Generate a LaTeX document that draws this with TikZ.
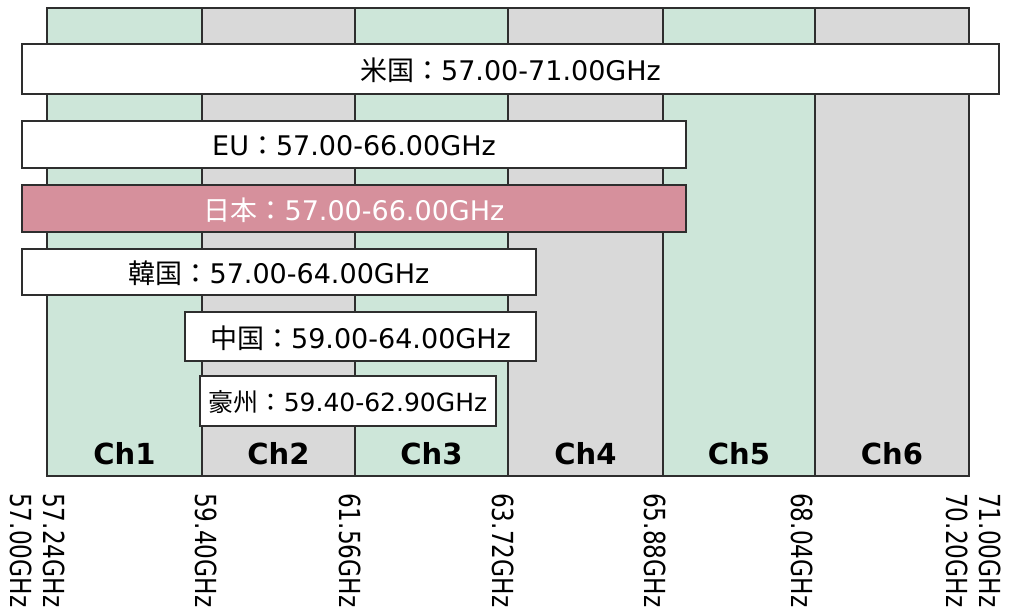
\documentclass[tikz,border=0pt]{standalone}
\usepackage{fontspec}
\setmainfont{DejaVu Sans}
\newfontfamily\jpfont{Noto Sans CJK JP}
\newfontfamily\tickfont[FakeStretch=0.8]{DejaVu Sans}
\definecolor{chgreen}{HTML}{CDE6D9}
\definecolor{chgray}{HTML}{D9D9D9}
\definecolor{jppink}{HTML}{D6909C}
\definecolor{edge}{HTML}{2E2E2E}
\tikzset{
  chan/.style={draw=edge,line width=1.3pt},
  band/.style={draw=edge,line width=1.3pt,fill=white},
  bandtext/.style={font=\fontsize{27}{32}\selectfont,inner sep=0pt},
  chtext/.style={font=\fontsize{29}{34}\selectfont\bfseries,inner sep=0pt},
  freq/.style={font=\tickfont\fontsize{29}{34}\selectfont,rotate=-90,anchor=west,inner sep=0pt}
}
\begin{document}
\begin{tikzpicture}[x=1pt,y=-1pt]
  \useasboundingbox (0,0) rectangle (1021,612);
  % channels
  \foreach \n/\xa/\xb/\col in {1/47/202/chgreen,2/202/355/chgray,3/355/508/chgreen,
                               4/508/663/chgray,5/663/815/chgreen,6/815/969/chgray} {
    \filldraw[chan,fill=\col] (\xa,8) rectangle (\xb,476);
    \node[chtext] (ch\n) at ({(\xa+\xb)/2},454) {Ch\n};
  }
  % bands
  \filldraw[band] (22,44) rectangle (999,94);
  \node[bandtext] (us) at (510.5,70) {{\jpfont 米国：}57.00-71.00GHz};
  \filldraw[band] (22,121) rectangle (686,168);
  \node[bandtext] (eu) at (354,146) {EU{\jpfont ：}57.00-66.00GHz};
  \filldraw[band,fill=jppink] (22,185) rectangle (686,232);
  \node[bandtext,text=white] (jp) at (354,210) {{\jpfont 日本：}57.00-66.00GHz};
  \filldraw[band] (22,249) rectangle (536,295);
  \node[bandtext] (kr) at (279,273) {{\jpfont 韓国：}57.00-64.00GHz};
  \filldraw[band] (185,312) rectangle (536,361);
  \node[bandtext] (cn) at (360.5,338) {{\jpfont 中国：}59.00-64.00GHz};
  \filldraw[band] (200,376) rectangle (496,426);
  \node[bandtext,font=\fontsize{25}{30}\selectfont] (au) at (348,402) {{\jpfont 豪州：}59.40-62.90GHz};
  % frequencies
  \foreach \f/\x in {57.00/21,57.24/54,59.40/206,61.56/350,63.72/503,
                     65.88/655,68.04/802,70.20/957,71.00/990} {
    \node[freq] (f\x) at (\x,493) {\f GHz};
  }
\end{tikzpicture}
\end{document}
